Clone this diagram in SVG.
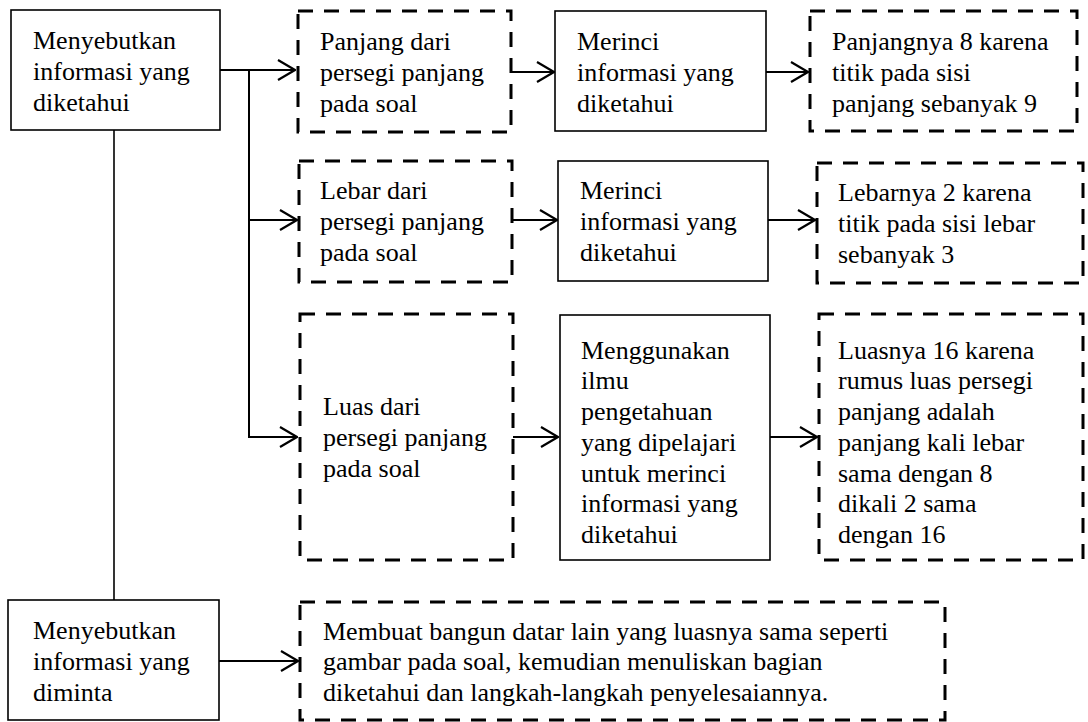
<svg xmlns="http://www.w3.org/2000/svg" width="1088" height="722" viewBox="0 0 1088 722">
<style>
.t text{font-family:'Times New Roman','Liberation Serif',Tinos,serif;font-size:26px;fill:#000}
.solid{fill:#fff;stroke:#000;stroke-width:1.6}
.dash{fill:#fff;stroke:#000;stroke-width:3;stroke-dasharray:15 11}
.ln{fill:none;stroke:#000;stroke-width:2}
.ln1{fill:none;stroke:#000;stroke-width:1.6}
</style>
<defs>
<marker id="arr" viewBox="0 0 19 22" refX="18" refY="11" markerWidth="19" markerHeight="22" markerUnits="userSpaceOnUse" orient="auto">
<path d="M1,1 L18,11 L1,21" fill="none" stroke="#000" stroke-width="2.2"/>
</marker>
</defs>
<rect width="1088" height="722" fill="#fff"/>
<g id="connectors">
<line class="ln1" x1="114" y1="130" x2="114" y2="600"/>
<line class="ln" x1="220" y1="70" x2="295" y2="70" marker-end="url(#arr)"/>
<polyline class="ln" points="249,70 249,437 297,437" marker-end="url(#arr)"/>
<line class="ln" x1="249" y1="220" x2="297" y2="220" marker-end="url(#arr)"/>
<line class="ln" x1="511" y1="72" x2="554" y2="72" marker-end="url(#arr)"/>
<line class="ln" x1="766" y1="72" x2="808" y2="72" marker-end="url(#arr)"/>
<line class="ln" x1="512" y1="220" x2="557" y2="220" marker-end="url(#arr)"/>
<line class="ln" x1="768" y1="220" x2="815" y2="220" marker-end="url(#arr)"/>
<line class="ln" x1="513" y1="437" x2="558" y2="437" marker-end="url(#arr)"/>
<line class="ln" x1="770" y1="437" x2="817" y2="437" marker-end="url(#arr)"/>
<line class="ln" x1="219" y1="661" x2="298" y2="661" marker-end="url(#arr)"/>
</g>
<g class="t">
<g id="n1">
<rect class="solid" x="11" y="10" width="209" height="120"/>
<text x="33" y="49">Menyebutkan</text>
<text x="33" y="80">informasi yang</text>
<text x="33" y="111">diketahui</text>
</g>
<g id="n2">
<rect class="dash" x="298" y="11" width="213" height="121"/>
<text x="320" y="50">Panjang dari</text>
<text x="320" y="81">persegi panjang</text>
<text x="320" y="112">pada soal</text>
</g>
<g id="n3">
<rect class="solid" x="555" y="11" width="211" height="120"/>
<text x="577" y="50">Merinci</text>
<text x="577" y="81">informasi yang</text>
<text x="577" y="112">diketahui</text>
</g>
<g id="n4">
<rect class="dash" x="810" y="11" width="267" height="120"/>
<text x="832" y="50">Panjangnya 8 karena</text>
<text x="832" y="81">titik pada sisi</text>
<text x="832" y="112">panjang sebanyak 9</text>
</g>
<g id="n5">
<rect class="dash" x="299" y="161" width="213" height="121"/>
<text x="320" y="199">Lebar dari</text>
<text x="320" y="230">persegi panjang</text>
<text x="320" y="261">pada soal</text>
</g>
<g id="n6">
<rect class="solid" x="558" y="161" width="210" height="120"/>
<text x="580" y="199">Merinci</text>
<text x="580" y="230">informasi yang</text>
<text x="580" y="261">diketahui</text>
</g>
<g id="n7">
<rect class="dash" x="817" y="163" width="266" height="120"/>
<text x="838" y="201">Lebarnya 2 karena</text>
<text x="838" y="232">titik pada sisi lebar</text>
<text x="838" y="263">sebanyak 3</text>
</g>
<g id="n8">
<rect class="dash" x="300" y="314" width="213" height="246"/>
<text x="323" y="415">Luas dari</text>
<text x="323" y="446">persegi panjang</text>
<text x="323" y="477">pada soal</text>
</g>
<g id="n9">
<rect class="solid" x="560" y="315" width="210" height="245"/>
<text x="581" y="359">Menggunakan</text>
<text x="581" y="389">ilmu</text>
<text x="581" y="420">pengetahuan</text>
<text x="581" y="451">yang dipelajari</text>
<text x="581" y="482">untuk merinci</text>
<text x="581" y="512">informasi yang</text>
<text x="581" y="543">diketahui</text>
</g>
<g id="n10">
<rect class="dash" x="819" y="314" width="264" height="246"/>
<text x="838" y="359">Luasnya 16 karena</text>
<text x="838" y="389">rumus luas persegi</text>
<text x="838" y="420">panjang adalah</text>
<text x="838" y="451">panjang kali lebar</text>
<text x="838" y="482">sama dengan 8</text>
<text x="838" y="512">dikali 2 sama</text>
<text x="838" y="543">dengan 16</text>
</g>
<g id="n11">
<rect class="solid" x="8" y="600" width="211" height="120"/>
<text x="33" y="639">Menyebutkan</text>
<text x="33" y="670">informasi yang</text>
<text x="33" y="701">diminta</text>
</g>
<g id="n12">
<rect class="dash" x="300" y="602" width="645" height="118"/>
<text x="323" y="640">Membuat bangun datar lain yang luasnya sama seperti</text>
<text x="323" y="670">gambar pada soal, kemudian menuliskan bagian</text>
<text x="323" y="701">diketahui dan langkah-langkah penyelesaiannya.</text>
</g>
</g>
</svg>
